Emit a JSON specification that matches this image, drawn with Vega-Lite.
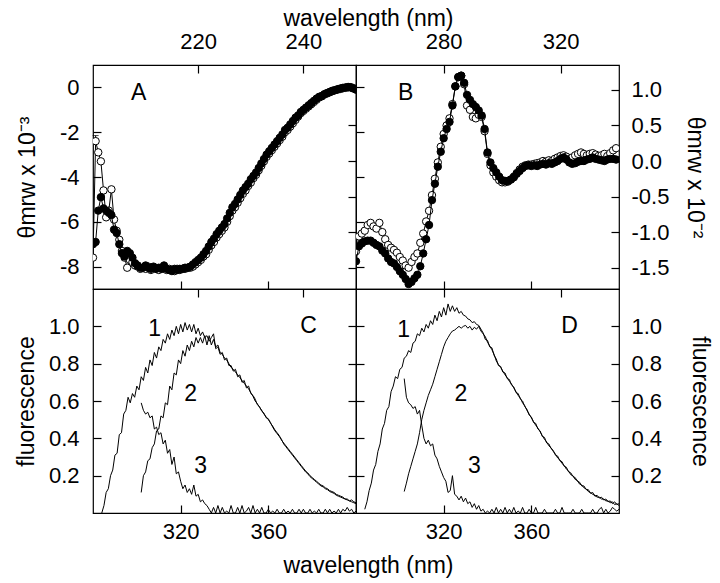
{
"$schema": "https://vega.github.io/schema/vega-lite/v6.json",
"background": "white",
"padding": {"left": 14, "top": 6, "right": 4, "bottom": 6},
"config": {
  "locale": {"number": {"decimal": ".", "thousands": ",", "grouping": [3], "currency": ["$", ""], "minus": "-"}},
  "view": {"stroke": "black", "strokeWidth": 1.2},
  "axis": {"grid": false, "domain": false, "labelFont": "Liberation Sans", "labelFontSize": 22, "labelColor": "black", "titleFont": "Liberation Sans", "titleFontSize": 23, "titleFontWeight": "normal", "titleColor": "black", "tickColor": "black", "tickWidth": 1.2, "labelPadding": 20},
  "text": {"font": "Liberation Sans", "fontSize": 23, "color": "black"}
},
"datasets": {
  "a": [
{"w":200,"f":-7,"o":-7.6},{"w":200.5,"f":-6.9,"o":-2.4},{"w":201,"f":-5.5,"o":-2.9},{"w":201.5,"f":-4.9,"o":-3.3},{"w":202,"f":-5.4,"o":-4.6},{"w":202.5,"f":-5.5,"o":-5.8},{"w":203,"f":-5.6,"o":-5.5},{"w":203.5,"f":-5.7,"o":-4.55},{"w":204,"f":-6.35,"o":-5.9},{"w":204.5,"f":-6.5,"o":-6.4},{"w":205,"f":-7,"o":-6.8},{"w":205.5,"f":-7.4,"o":-7.3},{"w":206,"f":-7.55,"o":-7.6},{"w":206.5,"f":-7.3,"o":-8.05},{"w":207,"f":-7.4,"o":-7.7},{"w":207.5,"f":-7.6,"o":-7.8},{"w":208,"f":-7.85,"o":-7.95},{"w":208.5,"f":-7.95,"o":-8},{"w":209,"f":-8.05,"o":-8.1},{"w":209.5,"f":-8.05,"o":-8.05},{"w":210,"f":-7.95,"o":-8.1},{"w":210.5,"f":-8.05,"o":-8},{"w":211,"f":-8.1,"o":-8.15},{"w":211.5,"f":-8,"o":-8.05},{"w":212,"f":-8.1,"o":-8.1},{"w":212.5,"f":-8.05,"o":-8.15},{"w":213,"f":-8.1,"o":-8.05},{"w":213.5,"f":-7.95,"o":-8.1},{"w":214,"f":-8.1,"o":-8.15},{"w":214.5,"f":-8.15,"o":-8.1},{"w":215,"f":-8.2,"o":-8.15},{"w":215.5,"f":-8.1,"o":-8.2},{"w":216,"f":-8.15,"o":-8.1},{"w":216.5,"f":-8.1,"o":-8.15},{"w":217,"f":-8.1,"o":-8.1},{"w":217.5,"f":-8.05,"o":-8.1},{"w":218,"f":-8.05,"o":-8.05},{"w":218.5,"f":-8,"o":-8.05},{"w":219,"f":-7.9,"o":-8},{"w":219.5,"f":-7.8,"o":-7.9},{"w":220,"f":-7.7,"o":-7.8},{"w":220.5,"f":-7.6,"o":-7.7},{"w":221,"f":-7.45,"o":-7.55},{"w":221.5,"f":-7.3,"o":-7.45},{"w":222,"f":-7.1,"o":-7.25},{"w":222.5,"f":-6.9,"o":-7.05},{"w":223,"f":-6.75,"o":-6.9},{"w":223.5,"f":-6.55,"o":-6.7},{"w":224,"f":-6.4,"o":-6.55},{"w":224.5,"f":-6.25,"o":-6.4},{"w":225,"f":-6.1,"o":-6.25},{"w":225.5,"f":-5.85,"o":-6},{"w":226,"f":-5.6,"o":-5.75},{"w":226.5,"f":-5.35,"o":-5.5},{"w":227,"f":-5.2,"o":-5.35},{"w":227.5,"f":-5,"o":-5.15},{"w":228,"f":-4.8,"o":-4.95},{"w":228.5,"f":-4.6,"o":-4.75},{"w":229,"f":-4.45,"o":-4.6},{"w":229.5,"f":-4.3,"o":-4.4},{"w":230,"f":-4.1,"o":-4.25},{"w":230.5,"f":-3.95,"o":-4.05},{"w":231,"f":-3.8,"o":-3.9},{"w":231.5,"f":-3.6,"o":-3.7},{"w":232,"f":-3.4,"o":-3.5},{"w":232.5,"f":-3.2,"o":-3.3},{"w":233,"f":-3,"o":-3.1},{"w":233.5,"f":-2.85,"o":-2.95},{"w":234,"f":-2.7,"o":-2.8},{"w":234.5,"f":-2.55,"o":-2.65},{"w":235,"f":-2.4,"o":-2.5},{"w":235.5,"f":-2.25,"o":-2.35},{"w":236,"f":-2.1,"o":-2.2},{"w":236.5,"f":-1.9,"o":-2},{"w":237,"f":-1.8,"o":-1.9},{"w":237.5,"f":-1.65,"o":-1.75},{"w":238,"f":-1.5,"o":-1.6},{"w":238.5,"f":-1.35,"o":-1.45},{"w":239,"f":-1.25,"o":-1.3},{"w":239.5,"f":-1.1,"o":-1.15},{"w":240,"f":-1,"o":-1.05},{"w":240.5,"f":-0.9,"o":-0.95},{"w":241,"f":-0.8,"o":-0.85},{"w":241.5,"f":-0.7,"o":-0.75},{"w":242,"f":-0.6,"o":-0.65},{"w":242.5,"f":-0.5,"o":-0.55},{"w":243,"f":-0.42,"o":-0.45},{"w":243.5,"f":-0.38,"o":-0.4},{"w":244,"f":-0.3,"o":-0.32},{"w":244.5,"f":-0.25,"o":-0.27},{"w":245,"f":-0.2,"o":-0.22},{"w":245.5,"f":-0.15,"o":-0.17},{"w":246,"f":-0.12,"o":-0.13},{"w":246.5,"f":-0.08,"o":-0.1},{"w":247,"f":-0.05,"o":-0.07},{"w":247.5,"f":-0.02,"o":-0.04},{"w":248,"f":0,"o":-0.02},{"w":248.5,"f":0.02,"o":0},{"w":249,"f":0,"o":0.01},{"w":249.5,"f":-0.05,"o":-0.03},{"w":250,"f":-0.1,"o":-0.08}
  ],
  "aerr": [{"w": 200.5, "lo": -2.4, "hi": -2.15}],
  "b": [
{"w":250,"f":-1.41,"o":-1.27},{"w":251,"f":-1.2,"o":-1.06},{"w":252,"f":-1.16,"o":-1.02},{"w":253,"f":-1.13,"o":-0.98},{"w":254,"f":-1.12,"o":-0.9},{"w":255,"f":-1.12,"o":-0.87},{"w":256,"f":-1.15,"o":-0.92},{"w":257,"f":-1.18,"o":-0.95},{"w":258,"f":-1.2,"o":-0.87},{"w":259,"f":-1.26,"o":-1},{"w":260,"f":-1.3,"o":-1.1},{"w":261,"f":-1.37,"o":-1.18},{"w":262,"f":-1.42,"o":-1.22},{"w":263,"f":-1.44,"o":-1.25},{"w":264,"f":-1.49,"o":-1.29},{"w":265,"f":-1.55,"o":-1.35},{"w":266,"f":-1.6,"o":-1.4},{"w":267,"f":-1.66,"o":-1.47},{"w":268,"f":-1.73,"o":-1.5},{"w":269,"f":-1.7,"o":-1.42},{"w":270,"f":-1.65,"o":-1.35},{"w":271,"f":-1.6,"o":-1.3},{"w":272,"f":-1.48,"o":-1.15},{"w":273,"f":-1.3,"o":-1.02},{"w":274,"f":-1.1,"o":-0.85},{"w":275,"f":-0.9,"o":-0.7},{"w":276,"f":-0.55,"o":-0.48},{"w":277,"f":-0.32,"o":-0.25},{"w":278,"f":-0.08,"o":-0.02},{"w":279,"f":0.13,"o":0.2},{"w":280,"f":0.32,"o":0.38},{"w":281,"f":0.45,"o":0.5},{"w":282,"f":0.55,"o":0.6},{"w":283,"f":0.78,"o":0.8},{"w":284,"f":1.05,"o":1.05},{"w":285,"f":1.18,"o":1.18},{"w":286,"f":1.2,"o":1.2},{"w":287,"f":1.1,"o":1.08},{"w":288,"f":0.93,"o":0.78},{"w":289,"f":0.86,"o":0.72},{"w":290,"f":0.8,"o":0.62},{"w":291,"f":0.76,"o":0.6},{"w":292,"f":0.71,"o":0.65},{"w":293,"f":0.64,"o":0.62},{"w":294,"f":0.45,"o":0.42},{"w":295,"f":0.12,"o":0.1},{"w":296,"f":-0.02,"o":-0.06},{"w":297,"f":-0.1,"o":-0.16},{"w":298,"f":-0.16,"o":-0.22},{"w":299,"f":-0.22,"o":-0.27},{"w":300,"f":-0.27,"o":-0.3},{"w":301,"f":-0.28,"o":-0.3},{"w":302,"f":-0.28,"o":-0.29},{"w":303,"f":-0.26,"o":-0.26},{"w":304,"f":-0.23,"o":-0.22},{"w":305,"f":-0.18,"o":-0.17},{"w":306,"f":-0.14,"o":-0.12},{"w":307,"f":-0.1,"o":-0.08},{"w":308,"f":-0.07,"o":-0.06},{"w":309,"f":-0.06,"o":-0.05},{"w":310,"f":-0.07,"o":-0.05},{"w":311,"f":-0.06,"o":-0.04},{"w":312,"f":-0.07,"o":-0.03},{"w":313,"f":-0.05,"o":-0.02},{"w":314,"f":-0.04,"o":0},{"w":315,"f":-0.05,"o":-0.01},{"w":316,"f":-0.03,"o":0.01},{"w":317,"f":-0.04,"o":0},{"w":318,"f":-0.02,"o":0.03},{"w":319,"f":0,"o":0.05},{"w":320,"f":0.03,"o":0.07},{"w":321,"f":0.05,"o":0.08},{"w":322,"f":0.02,"o":0.06},{"w":323,"f":-0.02,"o":0.03},{"w":324,"f":-0.04,"o":0.05},{"w":325,"f":-0.03,"o":0.08},{"w":326,"f":-0.01,"o":0.1},{"w":327,"f":0,"o":0.12},{"w":328,"f":0,"o":0.1},{"w":329,"f":0.02,"o":0.08},{"w":330,"f":0.03,"o":0.1},{"w":331,"f":0.05,"o":0.11},{"w":332,"f":0.03,"o":0.09},{"w":333,"f":0.02,"o":0.07},{"w":334,"f":0.01,"o":0.08},{"w":335,"f":0,"o":0.1},{"w":336,"f":0.02,"o":0.07},{"w":337,"f":0.03,"o":0.11},{"w":338,"f":0.03,"o":0.15},{"w":339,"f":0.02,"o":0.18}
  ],
  "fl": [
{"w":284,"c1":0,"d1":0.02},{"w":285,"c1":0.04,"d1":0.06},{"w":286,"c1":0.11,"d1":0.12},{"w":287,"c1":0.13,"d1":0.16},{"w":288,"c1":0.2,"d1":0.23},{"w":289,"c1":0.23,"d1":0.26},{"w":290,"c1":0.31,"d1":0.33},{"w":291,"c1":0.32,"d1":0.37},{"w":292,"c1":0.42,"d1":0.45},{"w":293,"c1":0.43,"d1":0.48},{"w":294,"c1":0.53,"d1":0.55},{"w":295,"c1":0.55,"d1":0.57},{"w":296,"c1":0.62,"d1":0.65},{"w":297,"c1":0.59,"d1":0.68},{"w":298,"c1":0.64,"d1":0.73},{"w":299,"c1":0.62,"d1":0.72},{"w":300,"c1":0.68,"d1":0.77},{"w":301,"c1":0.66,"d1":0.78},
{"w":302,"c1":0.73,"c2":0.11,"c3":0.59,"d1":0.83,"d2":0.115,"d3":0.72},
{"w":303,"c1":0.71,"c2":0.2,"c3":0.55,"d1":0.84,"d2":0.16,"d3":0.62},
{"w":304,"c1":0.78,"c2":0.22,"c3":0.53,"d1":0.87,"d2":0.21,"d3":0.59},
{"w":305,"c1":0.75,"c2":0.28,"c3":0.54,"d1":0.86,"d2":0.25,"d3":0.58},
{"w":306,"c1":0.82,"c2":0.29,"c3":0.51,"d1":0.91,"d2":0.29,"d3":0.56},
{"w":307,"c1":0.79,"c2":0.35,"c3":0.52,"d1":0.92,"d2":0.33,"d3":0.57},
{"w":308,"c1":0.86,"c2":0.37,"c3":0.45,"d1":0.96,"d2":0.37,"d3":0.53},
{"w":309,"c1":0.83,"c2":0.44,"c3":0.46,"d1":0.95,"d2":0.43,"d3":0.55},
{"w":310,"c1":0.89,"c2":0.45,"c3":0.42,"d1":0.99,"d2":0.5,"d3":0.47},
{"w":311,"c1":0.87,"c2":0.52,"c3":0.43,"d1":0.97,"d2":0.55,"d3":0.4},
{"w":312,"c1":0.93,"c2":0.51,"c3":0.37,"d1":1.01,"d2":0.59,"d3":0.37},
{"w":313,"c1":0.91,"c2":0.59,"c3":0.39,"d1":0.99,"d2":0.63,"d3":0.39},
{"w":314,"c1":0.96,"c2":0.58,"c3":0.32,"d1":1.03,"d2":0.66,"d3":0.36},
{"w":315,"c1":0.93,"c2":0.68,"c3":0.34,"d1":1.01,"d2":0.69,"d3":0.37},
{"w":316,"c1":0.98,"c2":0.66,"c3":0.26,"d1":1.06,"d2":0.73,"d3":0.31},
{"w":317,"c1":0.95,"c2":0.75,"c3":0.3,"d1":1.03,"d2":0.77,"d3":0.29},
{"w":318,"c1":1,"c2":0.74,"c3":0.21,"d1":1.08,"d2":0.81,"d3":0.25},
{"w":319,"c1":0.96,"c2":0.82,"c3":0.22,"d1":1.05,"d2":0.85,"d3":0.22},
{"w":320,"c1":1.01,"c2":0.8,"c3":0.17,"d1":1.1,"d2":0.89,"d3":0.19},
{"w":321,"c1":0.97,"c2":0.87,"c3":0.13,"d1":1.06,"d2":0.92,"d3":0.17},
{"w":322,"c1":1.02,"c2":0.84,"c3":0.15,"d1":1.12,"d2":0.94,"d3":0.11},
{"w":323,"c1":0.98,"c2":0.9,"c3":0.11,"d1":1.08,"d2":0.96,"d3":0.12},
{"w":324,"c1":1.01,"c2":0.87,"c3":0.13,"d1":1.11,"d2":0.975,"d3":0.2},
{"w":325,"c1":0.97,"c2":0.92,"c3":0.1,"d1":1.08,"d2":0.98,"d3":0.1},
{"w":326,"c1":1.01,"c2":0.89,"c3":0.15,"d1":1.1,"d2":0.99,"d3":0.09},
{"w":327,"c1":0.96,"c2":0.94,"c3":0.09,"d1":1.07,"d2":1,"d3":0.07},
{"w":328,"c1":0.99,"c2":0.91,"c3":0.1,"d1":1.08,"d2":0.99,"d3":0.09},
{"w":329,"c1":0.95,"c2":0.94,"c3":0.06,"d1":1.06,"d2":1,"d3":0.06},
{"w":330,"c1":0.97,"c2":0.91,"c3":0.07,"d1":1.055,"d2":1.005,"d3":0.08},
{"w":331,"c1":0.94,"c2":0.95,"c3":0.05,"d1":1.04,"d2":0.99,"d3":0.05},
{"w":332,"c1":0.95,"c2":0.9,"c3":0.04,"d1":1.035,"d2":1,"d3":0.06},
{"w":333,"c1":0.92,"c2":0.95,"c3":0.02,"d1":1.02,"d2":0.98,"d3":0.03},
{"w":334,"c1":0.94,"c2":0.9,"c3":0,"d1":1.025,"d2":0.995,"d3":0.05},
{"w":335,"c1":0.96,"c2":0.93,"c3":0.03,"d1":1.01,"d2":0.985,"d3":0.02},
{"w":336,"c1":0.88,"c2":0.89,"c3":0,"d1":1.005,"d2":1,"d3":0.04},
{"w":337,"c1":0.89,"c2":0.9,"c3":0.04,"d1":0.985,"d2":0.975,"d3":0.01},
{"w":338,"c1":0.85,"c2":0.86,"c3":0,"d1":0.965,"d2":0.96,"d3":0.02},
{"w":339,"c1":0.86,"c2":0.85,"c3":0.03,"d1":0.93,"d2":0.945,"d3":0},
{"w":340,"c1":0.82,"c2":0.83,"c3":0,"d1":0.925,"d2":0.915,"d3":0.01},
{"w":341,"c1":0.83,"c2":0.82,"c3":0.01,"d1":0.89,"d2":0.895,"d3":0},
{"w":342,"c1":0.79,"c2":0.8,"c3":0,"d1":0.885,"d2":0.875,"d3":0.02},
{"w":343,"c1":0.79,"c2":0.78,"c3":0.04,"d1":0.845,"d2":0.85,"d3":0},
{"w":344,"c1":0.76,"c2":0.77,"c3":0,"d1":0.825,"d2":0.815,"d3":0.03},
{"w":345,"c1":0.77,"c2":0.755,"c3":0,"d1":0.79,"d2":0.795,"d3":0},
{"w":346,"c1":0.73,"c2":0.74,"c3":0.03,"d1":0.785,"d2":0.78,"d3":0.02},
{"w":347,"c1":0.74,"c2":0.725,"c3":0,"d1":0.755,"d2":0.76,"d3":0},
{"w":348,"c1":0.7,"c2":0.71,"c3":0.04,"d1":0.75,"d2":0.74,"d3":0.03},
{"w":349,"c1":0.71,"c2":0.695,"c3":0,"d1":0.72,"d2":0.725,"d3":0},
{"w":350,"c1":0.67,"c2":0.68,"c3":0.01,"d1":0.715,"d2":0.705,"d3":0.02},
{"w":351,"c1":0.68,"c2":0.665,"c3":0.03,"d1":0.685,"d2":0.69,"d3":0},
{"w":352,"c1":0.64,"c2":0.645,"c3":0,"d1":0.675,"d2":0.67,"d3":0.03},
{"w":353,"c1":0.63,"c2":0.625,"c3":0.04,"d1":0.645,"d2":0.65,"d3":0},
{"w":354,"c1":0.61,"c2":0.6,"c3":0,"d1":0.64,"d2":0.63,"d3":0.01},
{"w":355,"c1":0.58,"c2":0.585,"c3":0.02,"d1":0.61,"d2":0.615,"d3":0},
{"w":356,"c1":0.57,"c2":0.565,"c3":0,"d1":0.6,"d2":0.59,"d3":0.03},
{"w":357,"c1":0.545,"c2":0.55,"c3":0.03,"d1":0.57,"d2":0.575,"d3":0},
{"w":358,"c1":0.535,"c2":0.53,"c3":0,"d1":0.555,"d2":0.55,"d3":0},
{"w":359,"c1":0.51,"c2":0.515,"c3":0,"d1":0.525,"d2":0.53,"d3":0.02},
{"w":360,"c1":0.505,"c2":0.5,"c3":0.02,"d1":0.515,"d2":0.51,"d3":0},
{"w":361,"c1":0.48,"c2":0.485,"c3":0,"d1":0.485,"d2":0.49,"d3":0},
{"w":362,"c1":0.465,"c2":0.46,"c3":0.01,"d1":0.48,"d2":0.47,"d3":0.03},
{"w":363,"c1":0.445,"c2":0.44,"c3":0,"d1":0.45,"d2":0.455,"d3":0},
{"w":364,"c1":0.43,"c2":0.425,"c3":0.02,"d1":0.44,"d2":0.435,"d3":0},
{"w":365,"c1":0.415,"c2":0.41,"c3":0,"d1":0.41,"d2":0.415,"d3":0},
{"w":366,"c1":0.39,"c2":0.395,"c3":0,"d1":0.405,"d2":0.395,"d3":0.02},
{"w":367,"c1":0.375,"c2":0.37,"c3":0.02,"d1":0.375,"d2":0.38,"d3":0},
{"w":368,"c1":0.36,"c2":0.355,"c3":0,"d1":0.37,"d2":0.36,"d3":0},
{"w":369,"c1":0.345,"c2":0.34,"c3":0.01,"d1":0.345,"d2":0.35,"d3":0},
{"w":370,"c1":0.33,"c2":0.325,"c3":0,"d1":0.335,"d2":0.33,"d3":0},
{"w":371,"c1":0.315,"c2":0.31,"c3":0.02,"d1":0.31,"d2":0.315,"d3":0.02},
{"w":372,"c1":0.3,"c2":0.295,"c3":0,"d1":0.305,"d2":0.295,"d3":0},
{"w":373,"c1":0.285,"c2":0.28,"c3":0,"d1":0.28,"d2":0.285,"d3":0},
{"w":374,"c1":0.27,"c2":0.265,"c3":0.02,"d1":0.275,"d2":0.265,"d3":0.03},
{"w":375,"c1":0.255,"c2":0.25,"c3":0,"d1":0.25,"d2":0.255,"d3":0},
{"w":376,"c1":0.24,"c2":0.235,"c3":0.02,"d1":0.245,"d2":0.235,"d3":0},
{"w":377,"c1":0.225,"c2":0.22,"c3":0,"d1":0.22,"d2":0.225,"d3":0},
{"w":378,"c1":0.215,"c2":0.21,"c3":0,"d1":0.215,"d2":0.205,"d3":0},
{"w":379,"c1":0.2,"c2":0.195,"c3":0.02,"d1":0.195,"d2":0.2,"d3":0.02},
{"w":380,"c1":0.19,"c2":0.185,"c3":0,"d1":0.19,"d2":0.18,"d3":0},
{"w":381,"c1":0.18,"c2":0.175,"c3":0.01,"d1":0.17,"d2":0.175,"d3":0},
{"w":382,"c1":0.17,"c2":0.165,"c3":0,"d1":0.165,"d2":0.155,"d3":0},
{"w":383,"c1":0.16,"c2":0.155,"c3":0.02,"d1":0.145,"d2":0.15,"d3":0.02},
{"w":384,"c1":0.15,"c2":0.145,"c3":0,"d1":0.145,"d2":0.135,"d3":0},
{"w":385,"c1":0.145,"c2":0.14,"c3":0,"d1":0.125,"d2":0.13,"d3":0},
{"w":386,"c1":0.135,"c2":0.13,"c3":0.02,"d1":0.125,"d2":0.115,"d3":0},
{"w":387,"c1":0.13,"c2":0.125,"c3":0,"d1":0.105,"d2":0.11,"d3":0},
{"w":388,"c1":0.12,"c2":0.115,"c3":0.02,"d1":0.11,"d2":0.1,"d3":0.02},
{"w":389,"c1":0.115,"c2":0.11,"c3":0,"d1":0.09,"d2":0.095,"d3":0},
{"w":390,"c1":0.11,"c2":0.105,"c3":0.01,"d1":0.095,"d2":0.085,"d3":0},
{"w":391,"c1":0.1,"c2":0.095,"c3":0,"d1":0.08,"d2":0.085,"d3":0.02},
{"w":392,"c1":0.095,"c2":0.09,"c3":0.02,"d1":0.085,"d2":0.075,"d3":0.03},
{"w":393,"c1":0.09,"c2":0.085,"c3":0,"d1":0.07,"d2":0.075,"d3":0},
{"w":394,"c1":0.085,"c2":0.08,"c3":0.02,"d1":0.075,"d2":0.065,"d3":0.02},
{"w":395,"c1":0.075,"c2":0.075,"c3":0.01,"d1":0.06,"d2":0.065,"d3":0},
{"w":396,"c1":0.075,"c2":0.07,"c3":0.03,"d1":0.065,"d2":0.055,"d3":0.01},
{"w":397,"c1":0.065,"c2":0.065,"c3":0.01,"d1":0.05,"d2":0.06,"d3":0.03},
{"w":398,"c1":0.07,"c2":0.06,"c3":0.02,"d1":0.06,"d2":0.045,"d3":0.02},
{"w":399,"c1":0.06,"c2":0.055,"c3":0,"d1":0.045,"d2":0.05,"d3":0.01},
{"w":400,"c1":0.055,"c2":0.05,"c3":0.01,"d1":0.05,"d2":0.04,"d3":0.02}
  ]
},
"columns": 2,
"spacing": 0,
"bounds": "flush",
"concat": [
   {
    "width": 263, "height": 224,
    "data": {"name": "a"},
    "layer": [
     {"mark": {"type": "line", "color": "black", "strokeWidth": 1, "clip": true},
      "encoding": {
       "x": {"field": "w", "type": "quantitative", "scale": {"domain": [200, 250], "nice": false, "zero": false}, "axis": {"orient": "top", "values": [220, 240], "title": "wavelength (nm)", "titleX": 275, "titlePadding": 0, "labelPadding": 20, "tickSize": -8}},
       "y": {"field": "o", "type": "quantitative", "scale": {"domain": [-9, 1], "nice": false, "zero": false}, "axis": {"orient": "left", "values": [0, -2, -4, -6, -8], "title": "θmrw x 10⁻³", "tickSize": -8, "labelPadding": 22, "titlePadding": 20}}}},
     {"data": {"name": "aerr"},
      "mark": {"type": "rule", "color": "black", "strokeWidth": 1},
      "encoding": {
       "x": {"field": "w", "type": "quantitative", "scale": {"domain": [200, 250], "nice": false, "zero": false}, "axis": null},
       "y": {"field": "lo", "type": "quantitative", "scale": {"domain": [-9, 1], "nice": false, "zero": false}, "axis": null},
       "y2": {"field": "hi"}}},
     {"data": {"name": "aerr"},
      "mark": {"type": "tick", "orient": "horizontal", "color": "black", "thickness": 1, "size": 6},
      "encoding": {
       "x": {"field": "w", "type": "quantitative", "scale": {"domain": [200, 250], "nice": false, "zero": false}, "axis": null},
       "y": {"field": "hi", "type": "quantitative", "scale": {"domain": [-9, 1], "nice": false, "zero": false}, "axis": null}}},
     {"mark": {"type": "point", "shape": "circle", "filled": true, "fill": "white", "stroke": "black", "strokeWidth": 1, "size": 55, "opacity": 1, "clip": true},
      "encoding": {
       "x": {"field": "w", "type": "quantitative", "scale": {"domain": [200, 250], "nice": false, "zero": false}, "axis": null},
       "y": {"field": "o", "type": "quantitative", "scale": {"domain": [-9, 1], "nice": false, "zero": false}, "axis": null}}},
     {"mark": {"type": "line", "color": "black", "strokeWidth": 1, "clip": true},
      "encoding": {
       "x": {"field": "w", "type": "quantitative", "scale": {"domain": [200, 250], "nice": false, "zero": false}, "axis": null},
       "y": {"field": "f", "type": "quantitative", "scale": {"domain": [-9, 1], "nice": false, "zero": false}, "axis": null}}},
     {"mark": {"type": "point", "shape": "circle", "filled": true, "fill": "black", "stroke": "black", "strokeWidth": 1, "size": 55, "opacity": 1, "clip": true},
      "encoding": {
       "x": {"field": "w", "type": "quantitative", "scale": {"domain": [200, 250], "nice": false, "zero": false}, "axis": {"orient": "bottom", "values": [220, 240], "labels": false, "title": null, "tickSize": 8}},
       "y": {"field": "f", "type": "quantitative", "scale": {"domain": [-9, 1], "nice": false, "zero": false}, "axis": {"orient": "right", "values": [0, -2, -4, -6, -8], "labels": false, "title": null, "tickSize": 8}}}},
     {"data": {"values": [{"w": 208.7, "y": -0.27, "t": "A"}]},
      "mark": {"type": "text", "align": "center", "baseline": "middle"},
      "encoding": {
       "x": {"field": "w", "type": "quantitative", "scale": {"domain": [200, 250], "nice": false, "zero": false}, "axis": null},
       "y": {"field": "y", "type": "quantitative", "scale": {"domain": [-9, 1], "nice": false, "zero": false}, "axis": null},
       "text": {"field": "t"}}}
    ],
    "resolve": {"axis": {"x": "independent", "y": "independent"}}
   },
   {
    "width": 263, "height": 224,
    "data": {"name": "b"},
    "layer": [
     {"mark": {"type": "line", "color": "black", "strokeWidth": 1, "clip": true},
      "encoding": {
       "x": {"field": "w", "type": "quantitative", "scale": {"domain": [250, 340], "nice": false, "zero": false}, "axis": {"orient": "top", "values": [280, 320], "title": null, "labelPadding": 20, "tickSize": -8}},
       "y": {"field": "o", "type": "quantitative", "scale": {"domain": [-1.8, 1.35], "nice": false, "zero": false}, "axis": {"orient": "right", "values": [1, 0.5, 0, -0.5, -1, -1.5], "format": ".1f", "title": "θmrw x 10⁻²", "tickSize": -8, "titlePadding": 14}}}},
     {"mark": {"type": "point", "shape": "circle", "filled": true, "fill": "white", "stroke": "black", "strokeWidth": 1, "size": 55, "opacity": 1, "clip": true},
      "encoding": {
       "x": {"field": "w", "type": "quantitative", "scale": {"domain": [250, 340], "nice": false, "zero": false}, "axis": null},
       "y": {"field": "o", "type": "quantitative", "scale": {"domain": [-1.8, 1.35], "nice": false, "zero": false}, "axis": null}}},
     {"mark": {"type": "line", "color": "black", "strokeWidth": 1, "clip": true},
      "encoding": {
       "x": {"field": "w", "type": "quantitative", "scale": {"domain": [250, 340], "nice": false, "zero": false}, "axis": null},
       "y": {"field": "f", "type": "quantitative", "scale": {"domain": [-1.8, 1.35], "nice": false, "zero": false}, "axis": null}}},
     {"mark": {"type": "point", "shape": "circle", "filled": true, "fill": "black", "stroke": "black", "strokeWidth": 1, "size": 55, "opacity": 1, "clip": true},
      "encoding": {
       "x": {"field": "w", "type": "quantitative", "scale": {"domain": [250, 340], "nice": false, "zero": false}, "axis": {"orient": "bottom", "values": [280, 320], "labels": false, "title": null, "tickSize": 8}},
       "y": {"field": "f", "type": "quantitative", "scale": {"domain": [-1.8, 1.35], "nice": false, "zero": false}, "axis": {"orient": "left", "values": [1, 0.5, 0, -0.5, -1, -1.5], "labels": false, "title": null, "tickSize": 8}}}},
     {"data": {"values": [{"w": 267, "y": 0.95, "t": "B"}]},
      "mark": {"type": "text", "align": "center", "baseline": "middle"},
      "encoding": {
       "x": {"field": "w", "type": "quantitative", "scale": {"domain": [250, 340], "nice": false, "zero": false}, "axis": null},
       "y": {"field": "y", "type": "quantitative", "scale": {"domain": [-1.8, 1.35], "nice": false, "zero": false}, "axis": null},
       "text": {"field": "t"}}}
    ],
    "resolve": {"axis": {"x": "independent", "y": "independent"}}
   },
   {
    "width": 263, "height": 224,
    "data": {"name": "fl"},
    "layer": [
     {"mark": {"type": "line", "color": "black", "strokeWidth": 1, "clip": true},
      "encoding": {
       "x": {"field": "w", "type": "quantitative", "scale": {"domain": [280, 400], "nice": false, "zero": false}, "axis": {"orient": "bottom", "values": [320, 360], "title": "wavelength (nm)", "titleX": 275, "titlePadding": 12, "labelPadding": 16, "tickSize": -8}},
       "y": {"field": "c1", "type": "quantitative", "scale": {"domain": [0, 1.2], "nice": false}, "axis": {"orient": "left", "values": [0.2, 0.4, 0.6, 0.8, 1.0], "format": ".1f", "title": "fluorescence", "tickSize": -8, "labelPadding": 22, "titlePadding": 10}}}},
     {"mark": {"type": "line", "color": "black", "strokeWidth": 1, "clip": true},
      "encoding": {
       "x": {"field": "w", "type": "quantitative", "scale": {"domain": [280, 400], "nice": false, "zero": false}, "axis": {"orient": "top", "values": [320, 360], "labels": false, "title": null, "tickSize": 8}},
       "y": {"field": "c2", "type": "quantitative", "scale": {"domain": [0, 1.2], "nice": false}, "axis": {"orient": "right", "values": [0.2, 0.4, 0.6, 0.8, 1.0], "labels": false, "title": null, "tickSize": 8}}}},
     {"mark": {"type": "line", "color": "black", "strokeWidth": 1, "clip": true},
      "encoding": {
       "x": {"field": "w", "type": "quantitative", "scale": {"domain": [280, 400], "nice": false, "zero": false}, "axis": null},
       "y": {"field": "c3", "type": "quantitative", "scale": {"domain": [0, 1.2], "nice": false}, "axis": null}}},
     {"data": {"values": [{"w": 308.1, "y": 0.985, "t": "1"}, {"w": 324.6, "y": 0.64, "t": "2"}, {"w": 329.1, "y": 0.25, "t": "3"}, {"w": 378.3, "y": 1.0, "t": "C"}]},
      "mark": {"type": "text", "align": "center", "baseline": "middle"},
      "encoding": {
       "x": {"field": "w", "type": "quantitative", "scale": {"domain": [280, 400], "nice": false, "zero": false}, "axis": null},
       "y": {"field": "y", "type": "quantitative", "scale": {"domain": [0, 1.2], "nice": false}, "axis": null},
       "text": {"field": "t"}}}
    ],
    "resolve": {"axis": {"x": "independent", "y": "independent"}}
   },
   {
    "width": 263, "height": 224,
    "data": {"name": "fl"},
    "layer": [
     {"mark": {"type": "line", "color": "black", "strokeWidth": 1, "clip": true},
      "encoding": {
       "x": {"field": "w", "type": "quantitative", "scale": {"domain": [280, 400], "nice": false, "zero": false}, "axis": {"orient": "bottom", "values": [320, 360], "title": null, "labelPadding": 16, "tickSize": -8}},
       "y": {"field": "d1", "type": "quantitative", "scale": {"domain": [0, 1.2], "nice": false}, "axis": {"orient": "right", "values": [0.2, 0.4, 0.6, 0.8, 1.0], "format": ".1f", "title": "fluorescence", "tickSize": -8, "titlePadding": 26}}}},
     {"mark": {"type": "line", "color": "black", "strokeWidth": 1, "clip": true},
      "encoding": {
       "x": {"field": "w", "type": "quantitative", "scale": {"domain": [280, 400], "nice": false, "zero": false}, "axis": {"orient": "top", "values": [320, 360], "labels": false, "title": null, "tickSize": 8}},
       "y": {"field": "d2", "type": "quantitative", "scale": {"domain": [0, 1.2], "nice": false}, "axis": {"orient": "left", "values": [0.2, 0.4, 0.6, 0.8, 1.0], "labels": false, "title": null, "tickSize": 8}}}},
     {"mark": {"type": "line", "color": "black", "strokeWidth": 1, "clip": true},
      "encoding": {
       "x": {"field": "w", "type": "quantitative", "scale": {"domain": [280, 400], "nice": false, "zero": false}, "axis": null},
       "y": {"field": "d3", "type": "quantitative", "scale": {"domain": [0, 1.2], "nice": false}, "axis": null}}},
     {"data": {"values": [{"w": 301.7, "y": 0.98, "t": "1"}, {"w": 327.9, "y": 0.64, "t": "2"}, {"w": 334.0, "y": 0.25, "t": "3"}, {"w": 377.4, "y": 1.0, "t": "D"}]},
      "mark": {"type": "text", "align": "center", "baseline": "middle"},
      "encoding": {
       "x": {"field": "w", "type": "quantitative", "scale": {"domain": [280, 400], "nice": false, "zero": false}, "axis": null},
       "y": {"field": "y", "type": "quantitative", "scale": {"domain": [0, 1.2], "nice": false}, "axis": null},
       "text": {"field": "t"}}}
    ],
    "resolve": {"axis": {"x": "independent", "y": "independent"}}
   }
]
}
